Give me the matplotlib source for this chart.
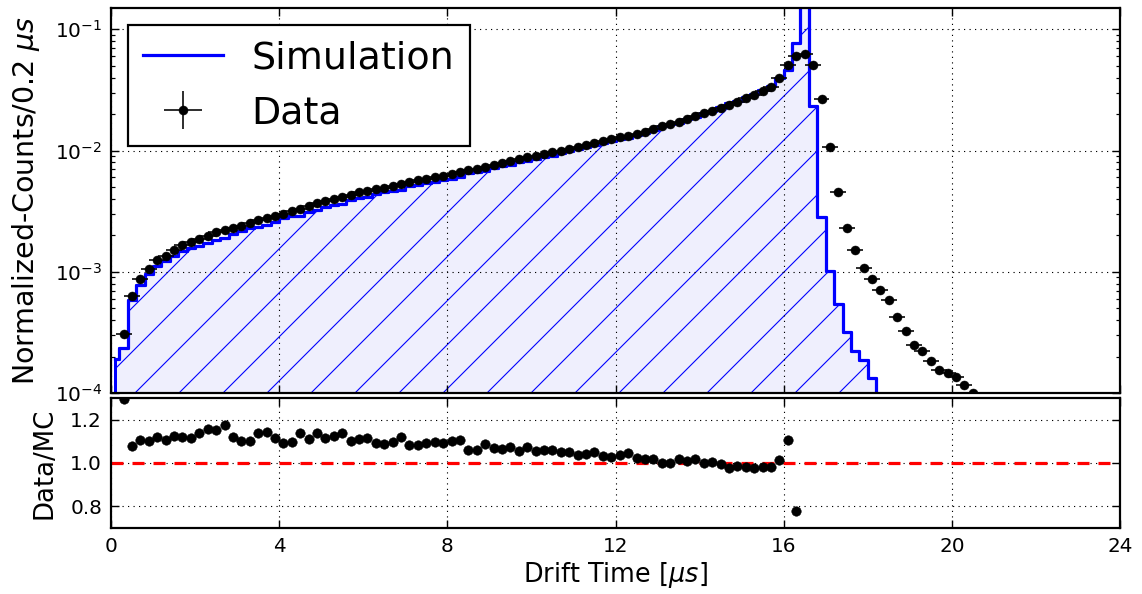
import numpy as np
import matplotlib
matplotlib.use("Agg")
import matplotlib.pyplot as plt

# ---------------- data ----------------
data_x = [0.3, 0.5, 0.7, 0.9, 1.1, 1.3, 1.5, 1.7, 1.9, 2.1, 2.3, 2.5, 2.7, 2.9, 3.1, 3.3, 3.5, 3.7, 3.9, 4.1,
          4.3, 4.5, 4.7, 4.9, 5.1, 5.3, 5.5, 5.7, 5.9, 6.1, 6.3, 6.5, 6.7, 6.9, 7.1, 7.3, 7.5, 7.7, 7.9, 8.1,
          8.3, 8.5, 8.7, 8.9, 9.1, 9.3, 9.5, 9.7, 9.9, 10.1, 10.3, 10.5, 10.7, 10.9, 11.1, 11.3, 11.5, 11.7, 11.9, 12.1,
          12.3, 12.5, 12.7, 12.9, 13.1, 13.3, 13.5, 13.7, 13.9, 14.1, 14.3, 14.5, 14.7, 14.9, 15.1, 15.3, 15.5, 15.7, 15.9, 16.1,
          16.3, 16.5, 16.7, 16.9, 17.1, 17.3, 17.5, 17.7, 17.9, 18.1, 18.3, 18.5, 18.7, 18.9, 19.1, 19.3, 19.5, 19.7, 19.9, 20.1,
          20.3, 20.5]
data_y = [3.06e-4, 6.31e-4, 8.67e-4, 1.06e-3, 1.25e-3, 1.36e-3, 1.51e-3, 1.65e-3, 1.77e-3, 1.87e-3,
          1.99e-3, 2.12e-3, 2.23e-3, 2.30e-3, 2.40e-3, 2.53e-3, 2.66e-3, 2.78e-3, 2.90e-3, 3.00e-3,
          3.16e-3, 3.30e-3, 3.48e-3, 3.66e-3, 3.85e-3, 4.01e-3, 4.17e-3, 4.34e-3, 4.51e-3, 4.65e-3,
          4.80e-3, 4.94e-3, 5.11e-3, 5.30e-3, 5.48e-3, 5.68e-3, 5.87e-3, 6.05e-3, 6.22e-3, 6.43e-3,
          6.65e-3, 6.87e-3, 7.11e-3, 7.36e-3, 7.62e-3, 7.87e-3, 8.18e-3, 8.51e-3, 8.77e-3, 9.06e-3,
          9.35e-3, 9.64e-3, 9.98e-3, 1.035e-2, 1.074e-2, 1.114e-2, 1.156e-2, 1.20e-2, 1.24e-2, 1.29e-2,
          1.33e-2, 1.38e-2, 1.43e-2, 1.51e-2, 1.58e-2, 1.65e-2, 1.73e-2, 1.83e-2, 1.93e-2, 2.03e-2,
          2.14e-2, 2.26e-2, 2.39e-2, 2.53e-2, 2.69e-2, 2.87e-2, 3.10e-2, 3.36e-2, 4.00e-2, 5.09e-2,
          6.03e-2, 6.31e-2, 5.06e-2, 2.64e-2, 1.08e-2, 4.52e-3, 2.30e-3, 1.51e-3, 1.08e-3, 8.67e-4,
          7.03e-4, 5.82e-4, 4.20e-4, 3.22e-4, 2.50e-4, 2.21e-4, 1.82e-4, 1.56e-4, 1.46e-4, 1.35e-4,
          1.17e-4, 1.00e-4]
data_xerr = [0.19] * len(data_x)
data_yerr = [0.0] * len(data_x)

sim_x = [0.1, 0.3, 0.5, 0.7, 0.9, 1.1, 1.3, 1.5, 1.7, 1.9, 2.1, 2.3, 2.5, 2.7, 2.9, 3.1, 3.3, 3.5, 3.7, 3.9,
         4.1, 4.3, 4.5, 4.7, 4.9, 5.1, 5.3, 5.5, 5.7, 5.9, 6.1, 6.3, 6.5, 6.7, 6.9, 7.1, 7.3, 7.5, 7.7, 7.9,
         8.1, 8.3, 8.5, 8.7, 8.9, 9.1, 9.3, 9.5, 9.7, 9.9, 10.1, 10.3, 10.5, 10.7, 10.9, 11.1, 11.3, 11.5, 11.7, 11.9,
         12.1, 12.3, 12.5, 12.7, 12.9, 13.1, 13.3, 13.5, 13.7, 13.9, 14.1, 14.3, 14.5, 14.7, 14.9, 15.1, 15.3, 15.5, 15.7, 15.9,
         16.1, 16.3, 16.5, 16.7, 16.9, 17.1, 17.3, 17.5, 17.7, 17.9, 18.1, 18.3]
sim_y = [1.90e-4, 2.35e-4, 5.85e-4, 7.84e-4, 9.64e-4, 1.118e-3, 1.23e-3, 1.341e-3, 1.473e-3, 1.585e-3,
         1.64e-3, 1.72e-3, 1.84e-3, 1.898e-3, 2.054e-3, 2.18e-3, 2.30e-3, 2.333e-3, 2.428e-3, 2.596e-3,
         2.752e-3, 2.878e-3, 2.902e-3, 3.138e-3, 3.21e-3, 3.447e-3, 3.561e-3, 3.658e-3, 3.935e-3, 4.067e-3,
         4.163e-3, 4.404e-3, 4.549e-3, 4.654e-3, 4.741e-3, 5.06e-3, 5.245e-3, 5.385e-3, 5.525e-3, 5.696e-3,
         5.83e-3, 6.013e-3, 6.481e-3, 6.708e-3, 6.765e-3, 7.135e-3, 7.39e-3, 7.631e-3, 8.066e-3, 8.158e-3,
         8.571e-3, 8.821e-3, 9.094e-3, 9.514e-3, 9.838e-3, 1.0357e-2, 1.0691e-2, 1.102e-2, 1.1605e-2, 1.205e-2,
         1.244e-2, 1.273e-2, 1.346e-2, 1.406e-2, 1.485e-2, 1.58e-2, 1.65e-2, 1.701e-2, 1.81e-2, 1.896e-2,
         2.03e-2, 2.127e-2, 2.271e-2, 2.451e-2, 2.566e-2, 2.745e-2, 2.935e-2, 3.154e-2, 3.418e-2, 3.945e-2,
         4.60e-2, 7.73e-2, 2.0e-1, 2.33e-2, 2.84e-3, 1.01e-3, 5.46e-4, 3.17e-4, 2.23e-4, 1.87e-4,
         1.33e-4, 0.0]

ratio_x = data_x[:81]
ratio_y = [1.295, 1.078, 1.106, 1.100, 1.118, 1.106, 1.126, 1.120, 1.117, 1.140,
           1.157, 1.152, 1.175, 1.120, 1.100, 1.100, 1.140, 1.145, 1.117, 1.090,
           1.098, 1.137, 1.109, 1.140, 1.117, 1.126, 1.140, 1.103, 1.109, 1.117,
           1.090, 1.086, 1.098, 1.118, 1.083, 1.083, 1.090, 1.095, 1.092, 1.103,
           1.106, 1.060, 1.060, 1.088, 1.068, 1.065, 1.072, 1.055, 1.075, 1.057,
           1.060, 1.060, 1.049, 1.052, 1.037, 1.042, 1.049, 1.034, 1.029, 1.037,
           1.045, 1.025, 1.017, 1.017, 1.000, 1.000, 1.017, 1.011, 1.018, 1.000,
           1.006, 0.995, 0.975, 0.986, 0.980, 0.978, 0.983, 0.983, 1.014, 1.106,
           0.780]

x_ticks = [0, 4, 8, 12, 16, 20, 24]
ratio_ticks = [0.8, 1.0, 1.2]
ratio_ticklabels = ["0.8", "1.0", "1.2"]

# ---------------- style ----------------
DPI = 264
PT = 72.0 / DPI  # points per pixel

plt.rcParams.update({
    "font.family": ["DejaVu Sans"],
    "mathtext.fontset": "dejavusans",
    "xtick.direction": "in",
    "ytick.direction": "in",
    "xtick.top": True,
    "ytick.right": True,
    "xtick.major.size": 8 * PT,
    "ytick.major.size": 8 * PT,
    "xtick.minor.size": 4 * PT,
    "ytick.minor.size": 4 * PT,
    "xtick.major.width": 1.4 * PT,
    "ytick.major.width": 1.4 * PT,
    "xtick.minor.width": 1.2 * PT,
    "ytick.minor.width": 1.2 * PT,
    "xtick.major.pad": 9 * PT,
    "ytick.major.pad": 9 * PT,
    "xtick.labelsize": 20 * PT,
    "ytick.labelsize": 20 * PT,
    "axes.linewidth": 2.2 * PT,
    "lines.scale_dashes": False,
    "hatch.linewidth": 1.1 * PT,
    "hatch.color": "blue",
})

fig = plt.figure(figsize=(1142 / DPI, 594 / DPI), dpi=DPI)
W, H = 1142.0, 594.0
L, R = 111, 1120
ax1 = fig.add_axes([L / W, 1 - 393 / H, (R - L) / W, (393 - 8) / H])
ax2 = fig.add_axes([L / W, 1 - 528 / H, (R - L) / W, (528 - 398) / H], sharex=ax1)

grid_kw = dict(color="black", linestyle=(0, (1.2 * PT, 4.3 * PT)), linewidth=1.1 * PT)

# upper panel
sim_fill = np.clip(np.array(sim_y), 1e-7, None)
ax1.fill_between(sim_x, sim_fill, 1e-7, step="mid", facecolor="#efeffd",
                 edgecolor="blue", hatch="//", linewidth=3 * PT, zorder=1)
sim_line, = ax1.step(sim_x, sim_y, where="mid", color="blue", lw=3.2 * PT, zorder=2)
eb = ax1.errorbar(data_x, data_y, xerr=data_xerr, yerr=data_yerr, fmt="o", color="black",
                  ms=9 * PT, mec="black", mew=0.5 * PT, elinewidth=1.6 * PT, capsize=0, zorder=3)
ax1.set_yscale("log")
ax1.set_ylim(1e-4, 0.15)
ax1.set_xlim(0, 24)
ax1.grid(True, which="major", **grid_kw)
ax1.tick_params(labelbottom=False)
ax1.set_ylabel(r"Normalized-Counts/0.2 $\mu s$", fontsize=28.5 * PT)
ax1.yaxis.set_label_coords(-0.068, 0.5)

leg = ax1.legend([sim_line, eb], ["Simulation", "Data"], loc="upper left",
                 fontsize=38 * PT, frameon=True, fancybox=False, framealpha=1,
                 borderaxespad=0.45, borderpad=0.4, labelspacing=0.5,
                 handlelength=2.1, handletextpad=0.75, numpoints=1)
leg.get_frame().set_edgecolor("black")
leg.get_frame().set_linewidth(2.2 * PT)

# ratio panel
ax2.axhline(1.0, color="red", linestyle=(0, (12 * PT, 9 * PT)), lw=3.2 * PT, zorder=2)
ax2.plot(ratio_x, ratio_y, "o", color="black", ms=9.5 * PT, mew=0.5 * PT, zorder=3)
ax2.set_ylim(0.7, 1.3)
ax2.set_yticks(ratio_ticks)
ax2.set_yticklabels(ratio_ticklabels)
ax2.set_xticks(x_ticks)
ax2.set_xticklabels([str(t) for t in x_ticks])
ax2.set_xlim(0, 24)
ax2.grid(True, which="major", **grid_kw)
ax2.set_ylabel("Data/MC", fontsize=26 * PT)
ax2.yaxis.set_label_coords(-0.053, 0.5)
ax2.set_xlabel(r"Drift Time [$\mu s$]", fontsize=25.5 * PT, labelpad=1)

fig.savefig("out.png", dpi=DPI)
